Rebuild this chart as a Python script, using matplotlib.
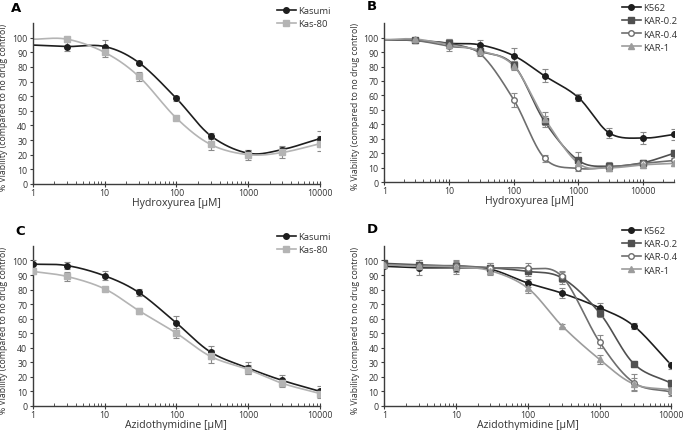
import numpy as np
import matplotlib
matplotlib.use('Agg')
import matplotlib.pyplot as plt
from matplotlib.ticker import LogLocator, FixedLocator, NullFormatter

plt.rcParams['font.family'] = ['Open Sans', 'DejaVu Sans']

W, H = 685, 431

# concentrations (uM); first point at 1 has no marker in A and B
conc_hu_a = [1, 3, 10, 30, 100, 300, 1000, 3000, 10000]
conc_hu_b = [1, 3, 10, 30, 100, 300, 1000, 3000, 10000, 30000]
conc_azt = [1, 3, 10, 30, 100, 300, 1000, 3000, 10000]

# Panel A - Hydroxyurea
kasumi_hu = [95, 94, 94, 83, 58.5, 33, 21, 23.5, 31]
kasumi_hu_err = [0, 3, 4.5, 1, 1.5, 1.5, 2, 2.5, 5]
kas80_hu = [99, 99, 90, 73.5, 45, 27, 20, 21.5, 27.5]
kas80_hu_err = [0, 1.5, 3, 3, 1, 3.5, 3.5, 4, 5]

# Panel B - Hydroxyurea
k562_hu = [98.5, 98, 96, 95, 87.5, 73.5, 58.5, 34, 30.5, 33]
k562_hu_err = [0, 1.5, 3, 3.5, 5, 4.5, 2.5, 3.5, 4, 4]
kar02_hu = [98.5, 98, 96, 90.5, 81, 42, 15, 11, 13.5, 20]
kar02_hu_err = [0, 1.5, 3, 2, 3, 4, 6, 3, 2, 2]
kar04_hu = [98.5, 98, 94, 89, 57, 16.5, 9.5, 10.5, 13, 15]
kar04_hu_err = [0, 1.5, 3, 2, 5, 2.5, 2, 2, 2, 2]
kar1_hu = [98.5, 99, 95, 91, 80.5, 44, 13, 10, 12, 13]
kar1_hu_err = [0, 1, 2.5, 2, 3, 4.5, 3, 2, 2, 2]

# Panel C - Azidothymidine
kasumi_azt = [97.5, 96.5, 89.5, 78, 57, 37, 26, 17.5, 10]
kasumi_azt_err = [3, 2.5, 3, 2.5, 4.5, 4.5, 4, 3.5, 4]
kas80_azt = [92.5, 89, 80.5, 65.5, 50, 34, 25, 15.5, 8.5]
kas80_azt_err = [2, 3, 1, 2, 3.5, 4.5, 3, 2.5, 3]

# Panel D - Azidothymidine
k562_azt = [96, 95, 95, 94, 84.5, 77.5, 67.5, 55, 28]
k562_azt_err = [1, 5, 4, 3, 3, 3.5, 3.5, 2, 2.5]
kar02_azt = [98, 97, 96, 95, 92.5, 88, 64, 29, 15.5]
kar02_azt_err = [2, 3, 4, 3, 3, 4, 3, 2, 2.5]
kar04_azt = [97, 96.5, 96.5, 95, 94.5, 89, 44, 16, 9.5]
kar04_azt_err = [2, 2, 3, 3, 4, 4, 4.5, 6, 2.5]
kar1_azt = [97, 96, 95.5, 93, 81, 55, 32, 15, 11]
kar1_azt_err = [2, 2, 3, 3, 3.5, 1, 3, 4, 2]

c_black = '#1e1e1e'
c_dark = '#505050'
c_mid = '#6e6e6e'
c_light = '#9c9c9c'
c_pale = '#b4b4b4'
c_err = '#8a8a8a'
c_axis = '#3c3c3c'
c_text = '#333333'


def smooth(x, y, n=30):
    # Catmull-Rom spline through the points (log x), like Excel smoothed lines
    lx = np.log10(np.asarray(x, float))
    y = np.asarray(y, float)
    px = np.concatenate([[2 * lx[0] - lx[1]], lx, [2 * lx[-1] - lx[-2]]])
    py = np.concatenate([[2 * y[0] - y[1]], y, [2 * y[-1] - y[-2]]])
    xs, ys = [], []
    t = np.linspace(0, 1, n)
    for i in range(1, len(px) - 2):
        for p, out in ((px, xs), (py, ys)):
            p0, p1, p2, p3 = p[i - 1], p[i], p[i + 1], p[i + 2]
            out.extend(0.5 * (2 * p1 + (-p0 + p2) * t
                              + (2 * p0 - 5 * p1 + 4 * p2 - p3) * t ** 2
                              + (-p0 + 3 * p1 - 3 * p2 + p3) * t ** 3))
    return 10 ** np.array(xs), np.array(ys)


def draw(ax, x, y, err, color, marker, label, skip_first, mfc=None):
    sx, sy = smooth(x, y)
    ax.plot(sx, sy, color=color, lw=1.2, zorder=2)
    s = 1 if skip_first else 0
    ax.errorbar(x[s:], y[s:], yerr=err[s:], fmt='none', ecolor=c_err,
                elinewidth=0.8, capsize=2, capthick=0.8, zorder=3)
    ax.plot(x[s:], y[s:], ls='none', marker=marker, ms=4,
            color=color, mfc=mfc if mfc else color, mew=1, zorder=4)
    # legend handle
    ax.plot([], [], color=color, lw=1.2, marker=marker, ms=4,
            mfc=mfc if mfc else color, label=label)


def style(ax, xmax, xlabel, letter, letter_xy, leg_xy, ylab_x):
    ax.set_xscale('log')
    ax.set_xlim(1, xmax)
    ax.set_ylim(0, 110)
    ax.set_yticks(range(0, 101, 10))
    majors = [1, 10, 100, 1000, 10000]
    ax.xaxis.set_major_locator(FixedLocator(majors))
    ax.set_xticklabels([str(m) for m in majors])
    ax.xaxis.set_minor_locator(LogLocator(base=10, subs=np.arange(2, 10)))
    ax.xaxis.set_minor_formatter(NullFormatter())
    for side in ('top', 'right'):
        ax.spines[side].set_visible(False)
    for side in ('left', 'bottom'):
        ax.spines[side].set_color(c_axis)
        ax.spines[side].set_linewidth(1.0)
    ax.tick_params(axis='x', which='major', direction='inout', length=4,
                   width=0.8, color=c_axis, labelsize=6.3, labelcolor=c_text, pad=1)
    ax.tick_params(axis='x', which='minor', direction='in', length=2,
                   width=0.6, color=c_axis)
    ax.tick_params(axis='y', direction='out', length=2.5, width=0.8,
                   color=c_axis, labelsize=6.3, labelcolor=c_text, pad=1.5)
    ax.set_xlabel(xlabel, fontsize=7.6, color=c_text, labelpad=0)
    ax.set_ylabel('% Viability (compared to no drug control)', fontsize=6.3,
                  color=c_text)
    ax.yaxis.set_label_coords(ylab_x, 0.48)
    fig.text(letter_xy[0] / W, 1 - letter_xy[1] / H, letter, fontsize=9.5,
             fontweight='bold', ha='center', va='center', family='DejaVu Sans')
    ax.legend(loc='upper left', bbox_to_anchor=(leg_xy[0] / W, 1 - leg_xy[1] / H),
              bbox_transform=fig.transFigure, frameon=False, borderpad=0,
              fontsize=6.8, handlelength=2.0, handletextpad=0.2,
              labelspacing=0.45, borderaxespad=0, labelcolor=c_text)


fig = plt.figure(figsize=(6.85, 4.31), dpi=100)
axA = fig.add_axes([0.048, 0.571, 0.419, 0.373])
axB = fig.add_axes([0.561, 0.575, 0.423, 0.369])
axC = fig.add_axes([0.048, 0.056, 0.419, 0.371])
axD = fig.add_axes([0.561, 0.056, 0.419, 0.371])

draw(axA, conc_hu_a, kasumi_hu, kasumi_hu_err, c_black, 'o', 'Kasumi', True)
draw(axA, conc_hu_a, kas80_hu, kas80_hu_err, c_pale, 's', 'Kas-80', True)
style(axA, 10000, 'Hydroxyurea [µM]', 'A', (16, 8), (277, 7), -0.088)

draw(axB, conc_hu_b, k562_hu, k562_hu_err, c_black, 'o', 'K562', True)
draw(axB, conc_hu_b, kar02_hu, kar02_hu_err, c_dark, 's', 'KAR-0.2', True)
draw(axB, conc_hu_b, kar04_hu, kar04_hu_err, c_mid, 'o', 'KAR-0.4', True, mfc='white')
draw(axB, conc_hu_b, kar1_hu, kar1_hu_err, c_light, '^', 'KAR-1', True)
style(axB, 30000, 'Hydroxyurea [µM]', 'B', (372, 7), (622, 4), -0.083)

draw(axC, conc_azt, kasumi_azt, kasumi_azt_err, c_black, 'o', 'Kasumi', False)
draw(axC, conc_azt, kas80_azt, kas80_azt_err, c_pale, 's', 'Kas-80', False)
style(axC, 10000, 'Azidothymidine [µM]', 'C', (20, 232), (277, 233), -0.088)

draw(axD, conc_azt, k562_azt, k562_azt_err, c_black, 'o', 'K562', False)
draw(axD, conc_azt, kar02_azt, kar02_azt_err, c_dark, 's', 'KAR-0.2', False)
draw(axD, conc_azt, kar04_azt, kar04_azt_err, c_mid, 'o', 'KAR-0.4', False, mfc='white')
draw(axD, conc_azt, kar1_azt, kar1_azt_err, c_light, '^', 'KAR-1', False)
style(axD, 10000, 'Azidothymidine [µM]', 'D', (372, 230), (622, 227), -0.084)

fig.savefig('out.png', dpi=100)
